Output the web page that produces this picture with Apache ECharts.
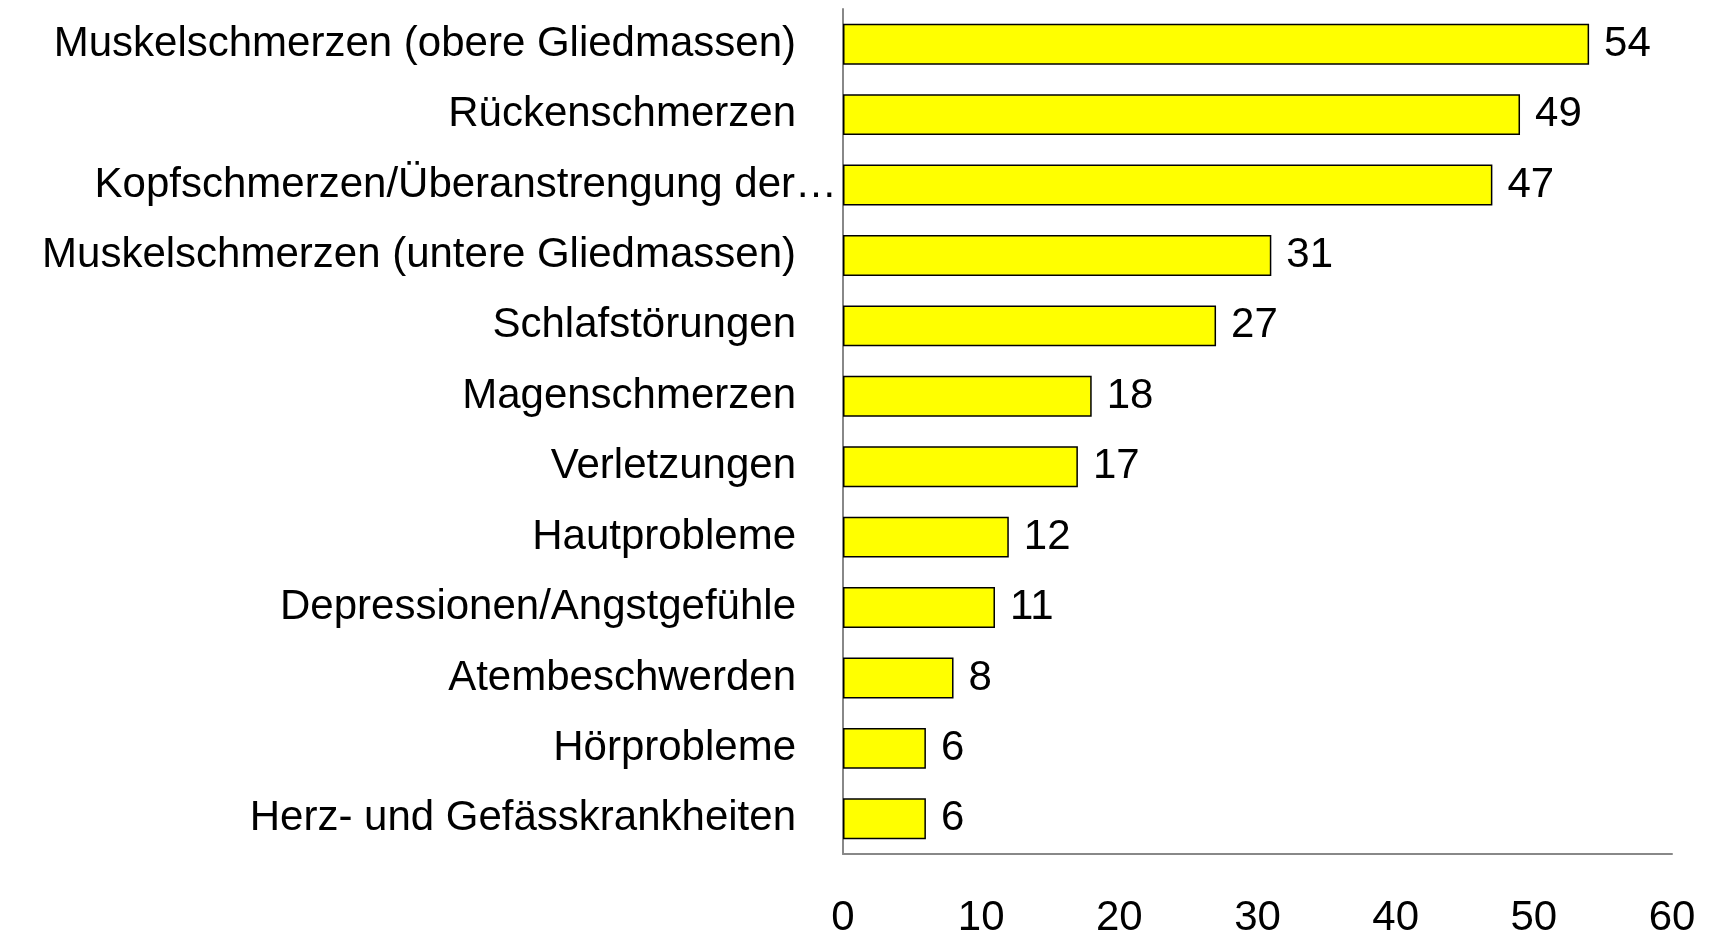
<!DOCTYPE html>
<html>
<head>
<meta charset="utf-8">
<script src="https://cdn.jsdelivr.net/npm/echarts@6/dist/echarts.min.js"></script>
<style>
  html, body { margin: 0; padding: 0; background: #fff; }
  #chart { width: 1722px; height: 939px; }
</style>
</head>
<body>
<div id="chart"></div>
<script>
const categories = [
  "Muskelschmerzen (obere Gliedmassen)",
  "Rückenschmerzen",
  "Kopfschmerzen/Überanstrengung der…",
  "Muskelschmerzen (untere Gliedmassen)",
  "Schlafstörungen",
  "Magenschmerzen",
  "Verletzungen",
  "Hautprobleme",
  "Depressionen/Angstgefühle",
  "Atembeschwerden",
  "Hörprobleme",
  "Herz- und Gefässkrankheiten"
];
const values = [54, 49, 47, 31, 27, 18, 17, 12, 11, 8, 6, 6];
const xTicks = [0, 10, 20, 30, 40, 50, 60];

// no narrow Arial here, so a smaller regular sans keeps the label widths
const font = "'Liberation Sans', Arial, sans-serif";
const fontSize = 42;

const chart = echarts.init(document.getElementById("chart"));
chart.setOption({
  backgroundColor: "#fff",
  animation: false,
  grid: { left: 843, right: 50, top: 9, bottom: 85, containLabel: false, outerBoundsMode: "none" },
  xAxis: {
    type: "value",
    min: xTicks[0],
    max: xTicks[xTicks.length - 1],
    interval: 10,
    axisLine: { show: true, lineStyle: { color: "#888", width: 2 } },
    axisTick: { show: false },
    splitLine: { show: false },
    axisLabel: { color: "#000", fontFamily: font, fontSize: fontSize, margin: 43 }
  },
  yAxis: {
    type: "category",
    inverse: true,
    data: categories,
    axisLine: { show: true, lineStyle: { color: "#888", width: 2 } },
    axisTick: { show: false },
    axisLabel: {
      color: "#000",
      fontFamily: font,
      fontSize: fontSize,
      margin: 6,
      formatter: function (v) {
        // Excel-style truncated label sits closer to the axis
        return v.endsWith("…") ? "{t|" + v + "}" : "{p|" + v + "}";
      },
      rich: {
        p: { fontFamily: font, fontSize: fontSize, color: "#000", padding: [0, 41, 0, 0] },
        t: { fontFamily: font, fontSize: fontSize, color: "#000" }
      }
    }
  },
  series: [{
    type: "bar",
    data: values,
    barWidth: "58%",
    itemStyle: { color: "#ffff00", borderColor: "#000", borderWidth: 1.5 },
    label: {
      show: true,
      position: "right",
      distance: 15,
      color: "#000",
      fontFamily: font,
      fontSize: fontSize
    }
  }]
});
</script>
</body>
</html>
